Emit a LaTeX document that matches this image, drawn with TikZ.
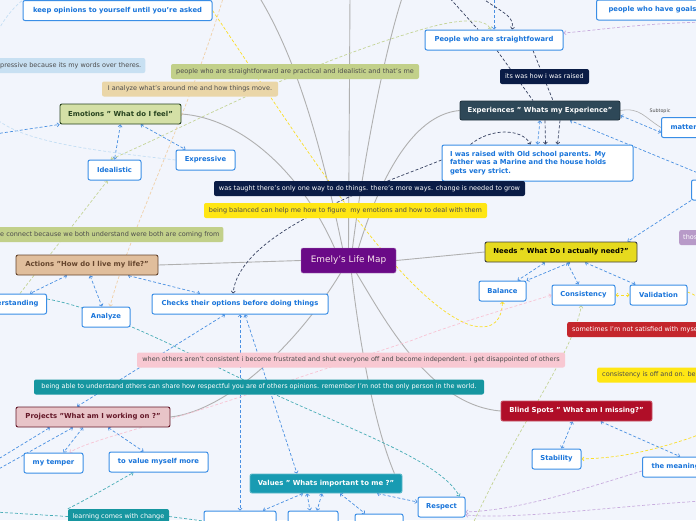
\documentclass[tikz,border=0pt]{standalone}
\usepackage{fontspec}
\setmainfont{DejaVu Sans}
\usepackage{tikz}
\usetikzlibrary{arrows.meta, positioning}
\definecolor{canvas}{RGB}{242,245,252}
\definecolor{subBlue}{RGB}{58,142,230}
\definecolor{subText}{RGB}{24,116,218}
\definecolor{hubPurple}{RGB}{106,10,135}
\definecolor{emoFill}{RGB}{212,224,166}
\definecolor{emoLine}{RGB}{38,66,30}
\definecolor{expFill}{RGB}{46,72,88}
\definecolor{needFill}{RGB}{230,218,30}
\definecolor{actFill}{RGB}{224,190,156}
\definecolor{actLine}{RGB}{100,68,44}
\definecolor{projFill}{RGB}{232,196,200}
\definecolor{projLine}{RGB}{100,24,40}
\definecolor{blindFill}{RGB}{176,14,40}
\definecolor{valFill}{RGB}{24,155,178}
\definecolor{noteBlue}{RGB}{200,224,242}
\definecolor{noteGreen}{RGB}{194,208,138}
\definecolor{noteTan}{RGB}{234,214,168}
\definecolor{noteNavy}{RGB}{10,28,70}
\definecolor{noteYellow}{RGB}{255,230,20}
\definecolor{notePurple}{RGB}{184,154,200}
\definecolor{noteRed}{RGB}{196,38,44}
\definecolor{notePink}{RGB}{248,200,210}
\definecolor{noteTeal}{RGB}{22,150,160}
\definecolor{tieGray}{RGB}{176,176,176}
\definecolor{linkBlue}{RGB}{74,144,226}
\definecolor{relNavy}{RGB}{54,64,96}
\definecolor{paleGreen}{RGB}{196,212,150}
\definecolor{paleOrange}{RGB}{240,208,168}
\definecolor{sunYellow}{RGB}{250,222,40}
\definecolor{palePink}{RGB}{248,196,212}
\definecolor{paleTeal}{RGB}{70,172,182}
\definecolor{lavender}{RGB}{200,172,222}
\definecolor{paleBlue}{RGB}{196,222,244}
\pgfdeclarelayer{canvaslayer}
\pgfdeclarelayer{linklayer}
\pgfsetlayers{canvaslayer,linklayer,main}

\begin{document}
\begin{tikzpicture}[x=1pt, y=-1pt, >={Straight Barb[length=2pt,width=4pt]},
  hub/.style={fill=hubPurple, draw=hubPurple!55!white, rounded corners=2pt, text=white!90!purple,
    font=\fontsize{8.9}{10}\selectfont, minimum width=95pt, minimum height=25pt},
  topic/.style={draw, line width=0.9pt, rounded corners=2pt, font=\fontsize{6.9}{8}\selectfont\bfseries,
    minimum height=20pt, inner xsep=3pt},
  sub/.style={draw=subBlue, fill=white, line width=1pt, rounded corners=2pt, text=subText,
    font=\fontsize{6.8}{8.5}\selectfont\bfseries, minimum height=20pt, inner xsep=3pt},
  note/.style={rounded corners=2pt, text=black!70, font=\fontsize{6.5}{7}\selectfont,
    minimum height=15pt, inner xsep=3pt, inner ysep=1pt},
  tie/.style={draw=tieGray, line width=0.9pt},
  link/.style={draw=linkBlue, line width=0.7pt, dash pattern=on 3pt off 2pt},
  rel/.style={line width=0.7pt, dash pattern=on 3pt off 2pt}]

  \useasboundingbox (0,0) rectangle (696,520);
  \begin{pgfonlayer}{canvaslayer}
    \fill[canvas] (0,0) rectangle (696,520);
  \end{pgfonlayer}

  % loose ends outside the view
  \coordinate (up1) at (258,-5);
  \coordinate (up2) at (350,-5);
  \coordinate (up3) at (403,-5);
  \coordinate (up4) at (447,-5);
  \coordinate (up5) at (478,-5);
  \coordinate (up6) at (494,-5);
  \coordinate (up7) at (224,-5);
  \coordinate (up8) at (30,-5);
  \coordinate (lft1) at (-5,134);
  \coordinate (lft2) at (-5,461);
  \coordinate (lft3) at (-5,471);
  \coordinate (lft4) at (-5,512);
  \coordinate (rgt1) at (720,182);
  \coordinate (rgt2) at (720,22);
  \coordinate (rgt3) at (720,500);
  \coordinate (dn1) at (470,530);

  % centre and main topics
  \node[hub] (life) at (348.5,260.5) {Emely's Life Map};
  \node[topic, fill=emoFill, draw=emoLine, text=emoLine, minimum width=121pt] (emo) at (120.5,114) {Emotions " What do I feel"};
  \node[topic, fill=expFill, draw=expFill!70!black, text=white, minimum width=160pt, minimum height=19pt] (exper) at (540,110.5) {Experiences " Whats my Experience"};
  \node[topic, fill=needFill, draw=black!75, text=black, minimum width=152pt] (needs) at (561,252) {Needs " What Do I actually need?"};
  \node[topic, fill=actFill, draw=actLine, text=actLine, minimum width=142pt] (act) at (87,265) {Actions "How do I live my life?"};
  \node[topic, fill=projFill, draw=projLine, text=projLine, minimum width=154pt] (proj) at (93,417) {Projects "What am I working on ?"};
  \node[topic, fill=blindFill, draw=blindFill!70!white, text=white, minimum width=151pt] (blind) at (576.5,411) {Blind Spots " What am I missing?"};
  \node[topic, fill=valFill, draw=valFill!70!white, text=white, minimum width=152pt, minimum height=19pt] (vals) at (326,483.5) {Values " Whats important to me ?"};

  % subtopics
  \node[sub, minimum width=189pt] (keep) at (117.5,10.5) {keep opinions to yourself until you're asked};
  \node[sub, minimum width=53pt] (ideal) at (114.5,170) {Idealistic};
  \node[sub, minimum width=59pt] (expr) at (205.5,160) {Expressive};
  \node[sub, minimum width=138pt] (straight) at (494,40) {People who are straightfoward};
  \node[sub, anchor=west, minimum width=112pt] (goals) at (596,10) {people who have goals};
  \node[sub, anchor=west, text width=60pt, align=left, inner xsep=9pt] (matter) at (661,127.5) {matter};
  \node[sub, text width=175pt, align=left, inner xsep=8pt, minimum height=36pt] (raised) at (537.5,163)
    {I was raised with Old school parents. My\\ father was a Marine and the house holds\\ gets very strict.};
  \node[sub, anchor=west, minimum width=40pt] (edge) at (691,190) {};
  \node[sub, minimum width=47pt] (bal) at (502.5,291) {Balance};
  \node[sub, minimum width=63pt] (cons) at (583.5,295) {Consistency};
  \node[sub, minimum width=57pt] (valid) at (658.5,295) {Validation};
  \node[sub, anchor=east, inner xsep=8pt] (under) at (47,304) {Understanding};
  \node[sub, minimum width=48pt] (anal) at (106,317) {Analyze};
  \node[sub, minimum width=176pt] (checks) at (240,304) {Checks their options before doing things};
  \node[sub, minimum width=59pt] (temper) at (53.5,463) {my temper};
  \node[sub, minimum width=99pt] (worth) at (158.5,462) {to value myself more};
  \node[sub, minimum width=49pt] (stab) at (556.5,459) {Stability};
  \node[sub, anchor=west, text width=70pt, align=left, inner xsep=9pt] (meaning) at (642,467) {the meaning};
  \node[sub, minimum width=47pt] (resp) at (441.5,507) {Respect};
  \node[sub, minimum width=72pt] (b1) at (240,521) {};
  \node[sub, minimum width=50pt] (b2) at (313,521) {};
  \node[sub, minimum width=48pt] (b3) at (379,524) {};

  % relationship labels
  \node[note, fill=noteBlue, anchor=west, inner xsep=4pt] (nExpr) at (-4,65.5) {pressive because its my words over theres.};
  \node[note, fill=noteGreen, minimum width=248pt] (nStraight) at (295,71.5) {people who are straightforward are practical and idealistic and that's me};
  \node[note, fill=noteTan, minimum width=176pt] (nAnalyze) at (190,89) {I analyze what's around me and how things move.};
  \node[note, fill=noteNavy, text=white, minimum width=89pt] (nRaised) at (544.5,76.5) {its was how i was raised};
  \node[note, fill=noteNavy, text=white, minimum width=311pt] (nTaught) at (369.5,188.5) {was taught there's only one way to do things. there's more ways. change is needed to grow};
  \node[note, fill=noteYellow, minimum width=283pt] (nBalanced) at (345.5,210.5) {being balanced can help me how to figure \ my emotions and how to deal with them};
  \node[note, fill=noteGreen, anchor=west, inner xsep=4pt] (nConnect) at (-4,234.5) {e connect because we both understand were both are coming from};
  \node[note, fill=notePurple, text=white, anchor=west, text width=30pt, align=left, inner xsep=4pt] (nThos) at (679,237.5) {thos};
  \node[note, fill=noteRed, text=white, anchor=west, inner xsep=5pt] (nSometimes) at (567,329.5) {sometimes I'm not satisfied with myself};
  \node[note, fill=notePink, minimum width=428pt] (nOthers) at (351,360) {when others aren't consistent i become frustrated and shut everyone off and become independent. i get disappointed of others};
  \node[note, fill=noteTeal, text=white, minimum width=450pt] (nRespect) at (259,387) {being able to understand others can share how respectful you are of others opinions. remember I'm not the only person in the world.};
  \node[note, fill=noteYellow, anchor=west, inner xsep=5pt] (nConsist) at (597,375) {consistency is off and on. being};
  \node[note, fill=noteTeal, text=white, minimum width=101pt] (nLearn) at (118.5,516.5) {learning comes with change};
  \node[font=\fontsize{4.8}{5}\selectfont, text=black!70] (subtag) at (660,111) {Subtopic};

  \begin{pgfonlayer}{linklayer}
    % branches from the centre
    \draw[tie] (emo.east) .. controls (240,118) and (300,170) .. ([xshift=-14pt]life.north);
    \draw[tie] ([xshift=-6pt]life.north) .. controls (322,150) and (298,60) .. (up1);
    \draw[tie] (life.north) -- (up2);
    \draw[tie] ([xshift=4pt]life.north) .. controls (365,150) and (385,50) .. (up3);
    \draw[tie] ([xshift=10pt]life.north) .. controls (378,185) and (410,115) .. (exper.west);
    \draw[tie] (life.east) -- (needs.west);
    \draw[tie] (life.west) -- (act.east);
    \draw[tie] ([xshift=-8pt]life.south) .. controls (300,340) and (230,410) .. (proj.east);
    \draw[tie] ([xshift=3pt]life.south) .. controls (358,330) and (372,420) .. ([xshift=-8pt]vals.north east);
    \draw[tie] ([xshift=8pt]life.south) .. controls (385,320) and (430,405) .. (blind.west);
    \draw[tie, line width=0.6pt] (exper.east) .. controls (640,107) and (645,118) .. (matter.west);

    % topic to subtopic
    \draw[link, <->] (emo.south) -- (ideal.north);
    \draw[link, <->] ([xshift=20pt]emo.south) -- ([xshift=-20pt]expr.north);
    \draw[link, ->] (lft1) -- (emo.south west);
    \draw[link, <->] ([xshift=-20pt]act.south) -- ([xshift=-17pt]under.north east);
    \draw[link, <->] ([xshift=3pt]act.south) -- ([xshift=-4pt]anal.north);
    \draw[link, <->] ([xshift=41pt]act.south) -- ([xshift=-40pt]checks.north);
    \draw[link, <->] ([xshift=-15pt]checks.south) -- ([xshift=-16pt]proj.north);
    \draw[link, <->] (checks.south) -- (b1.north);
    \draw[link, <->] ([xshift=5pt]checks.south) -- ([xshift=-29pt]vals.north);
    \draw[link, <->] ([xshift=-23pt]vals.south) -- ([xshift=23pt]b1.north);
    \draw[link, <->] ([xshift=-19pt]vals.south) -- ([xshift=-3pt]b2.north);
    \draw[link, <->] ([xshift=-4pt]vals.south) -- ([xshift=4pt]b2.north);
    \draw[link, <->] ([xshift=14pt]vals.south) -- ([xshift=-14pt]b3.north);
    \draw[link, <->] ([xshift=51pt]vals.south) -- ([yshift=5pt]resp.west);
    \draw[link, <->] ([xshift=-10pt]proj.south) -- ([xshift=10pt]temper.north);
    \draw[link, <->] ([xshift=15pt]proj.south) -- ([xshift=-15pt]worth.north);
    \draw[link, ->] (lft2) -- ([xshift=-43pt]proj.south);
    \draw[link, ->] (lft3) -- ([xshift=-20pt]proj.south);
    \draw[link, <->] ([xshift=-16pt]needs.south) -- ([xshift=15pt]bal.north);
    \draw[link, <->] ([xshift=9pt]needs.south) -- (bal.north east);
    \draw[link, <->] ([xshift=6pt]needs.south) -- ([xshift=-5pt]cons.north);
    \draw[link, <->] ([xshift=24pt]needs.south) -- ([xshift=-23pt]valid.north);
    \draw[link, ->] (edge.south west) -- ([xshift=-10pt]needs.north east);
    \draw[link, ->] (rgt1) -- ([xshift=30pt]exper.south);
    \draw[link, <->] ([yshift=-5pt]exper.east) -- ([yshift=-5pt]matter.west);
    \draw[link, <->] (exper.south) -- (raised.north);
    \draw[link, <->] ([xshift=-4pt]blind.south) -- ([xshift=5pt]stab.north);
    \draw[link, <->] ([xshift=24pt]blind.south) -- ([xshift=38pt]meaning.north west);
    \draw[link, ->] (up6) -- (straight.north);

    % relationships
    \draw[rel, draw=relNavy] ([xshift=3pt]straight.south) -- ([xshift=-7pt]exper.north);
    \draw[rel, draw=relNavy] ([xshift=39pt]straight.south) -- ([xshift=13pt]exper.north);
    \draw[rel, draw=relNavy, ->] ([xshift=5pt]exper.south) -- ([xshift=8pt]raised.north);
    \draw[rel, draw=relNavy, ->] ([xshift=20pt]exper.south) -- ([xshift=20pt]raised.north);
    \draw[rel, draw=relNavy, ->] ([xshift=-67pt]raised.north) .. controls (490,128) and (522,128) .. ([xshift=-7pt]raised.north);
    \draw[rel, draw=relNavy, ->] ([yshift=3pt]raised.west) .. controls (380,185) and (240,230) .. ([xshift=-7pt]checks.north);
    \draw[rel, draw=relNavy] (up4) -- ([xshift=-16pt]straight.north);
    \draw[rel, draw=relNavy, ->] (up5) .. controls (500,12) and (515,15) .. ([xshift=18pt]straight.north);
    \draw[rel, draw=paleGreen, <->] ([xshift=-4pt]ideal.north) .. controls (200,120) and (300,65) .. (420,30)
      .. controls (460,18) and (485,18) .. ([xshift=-3pt]straight.north);
    \draw[rel, draw=paleGreen, ->] ([xshift=-27pt]under.north east) -- ([xshift=-7pt]ideal.south);
    \draw[rel, draw=paleOrange, ->] (up7) .. controls (190,110) and (130,230) .. ([xshift=4pt]anal.north);
    \draw[rel, draw=sunYellow, ->] (keep.east) .. controls (300,140) and (400,300) .. (470,325)
      .. controls (495,332) and (502,318) .. (bal.south);
    \draw[rel, draw=sunYellow, ->] ([yshift=3pt]valid.east) .. controls (740,310) and (740,420) .. (693,437)
      .. controls (640,455) and (610,458) .. (stab.east);
    \draw[rel, draw=sunYellow, <->] (cons.east) -- (valid.west);
    \draw[rel, draw=palePink, <->] (cons.west) .. controls (520,305) and (450,325) .. (413,340) -- (240,397)
      .. controls (150,427) and (90,440) .. ([xshift=16pt]temper.north);
    \draw[rel, draw=paleTeal, ->] ([yshift=5pt]under.east) .. controls (110,310) and (200,360) .. (259,387)
      .. controls (350,430) and (440,460) .. ([xshift=18pt]resp.north);
    \draw[rel, draw=paleTeal, ->] (nLearn.north west) .. controls (95,495) and (120,480) .. ([xshift=-25pt]worth.south);
    \draw[rel, draw=paleTeal] (lft4) -- (nLearn.west);
    \draw[rel, draw=paleTeal] (nLearn.east) -- (b1.west);
    \draw[rel, draw=lavender, ->] (rgt2) .. controls (650,22) and (600,30) .. ([yshift=7pt]straight.east);
    \draw[rel, draw=lavender, ->] ([yshift=-4pt]meaning.west) .. controls (580,490) and (520,510) .. ([yshift=-5pt]resp.east);
    \draw[rel, draw=lavender, ->] (rgt3) .. controls (620,505) and (520,520) .. ([yshift=-8pt]resp.east);
    \draw[rel, draw=paleGreen, ->] (dn1) .. controls (520,420) and (570,360) .. ([xshift=-2pt]cons.south);
    \draw[rel, draw=paleBlue] (expr.west) .. controls (90,150) and (-10,140) .. (-15,100)
      .. controls (-20,50) and (5,10) .. (up8);
  \end{pgfonlayer}
\end{tikzpicture}
\end{document}
